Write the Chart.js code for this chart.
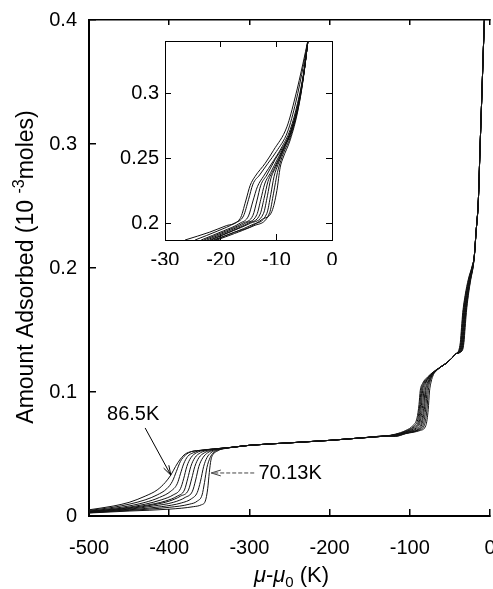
<!DOCTYPE html>
<html>
<head>
<meta charset="utf-8">
<script src="https://cdn.jsdelivr.net/npm/chart.js@4.4.1/dist/chart.umd.min.js"></script>
<style>
  body { margin: 0; background: #fff; }
  #wrap { position: relative; width: 493px; height: 589px; overflow: hidden; }
  #main { position: absolute; left: 0; top: 0; }
  #inset { position: absolute; left: 110px; top: 30px; }
</style>
</head>
<body>
<div id="wrap">
  <canvas id="main" width="493" height="589"></canvas>
  <canvas id="inset" width="230" height="235"></canvas>
</div>
<script>
// axis ticks
const mainXTicks = [-500, -400, -300, -200, -100, 0];
const mainYTicks = [0, 0.1, 0.2, 0.3, 0.4];
const insetXTicks = [-30, -20, -10, 0];
const insetYTicks = [0.2, 0.25, 0.3];

const hotLabel = '86.5K';
const coldLabel = '70.13K';

// main plot: [mu - mu0 (K), amount (1e-3 moles)], curves go from 86.5K (first) to 70.13K (last)
const firstStep = [
  [[-500,0.005],[-470,0.008],[-450,0.011],[-430,0.016],[-415,0.021],[-405,0.027],[-398,0.033],[-392,0.040],[-386,0.046],[-380,0.050],[-372,0.052],[-360,0.053],[-345,0.054]],
  [[-500,0.0045],[-470,0.007],[-450,0.0095],[-430,0.013],[-415,0.017],[-403,0.022],[-396,0.028],[-391,0.036],[-386,0.044],[-380,0.049],[-372,0.052],[-360,0.053],[-345,0.054]],
  [[-500,0.004],[-460,0.007],[-430,0.011],[-412,0.015],[-398,0.020],[-390,0.026],[-386,0.034],[-382,0.042],[-377,0.048],[-370,0.051],[-360,0.053],[-345,0.054]],
  [[-500,0.0038],[-460,0.0062],[-430,0.0095],[-410,0.013],[-395,0.017],[-386,0.022],[-382,0.030],[-378,0.040],[-373,0.047],[-366,0.051],[-356,0.053],[-345,0.054]],
  [[-500,0.0035],[-460,0.0058],[-430,0.0085],[-405,0.012],[-390,0.016],[-381,0.021],[-377,0.030],[-373,0.040],[-368,0.047],[-361,0.051],[-352,0.053],[-343,0.054]],
  [[-500,0.0032],[-450,0.006],[-420,0.009],[-400,0.012],[-386,0.016],[-376,0.021],[-372,0.030],[-368,0.040],[-363,0.047],[-356,0.051],[-348,0.053],[-340,0.054]],
  [[-500,0.003],[-450,0.0055],[-420,0.008],[-395,0.011],[-380,0.015],[-371,0.020],[-367,0.029],[-363,0.040],[-358,0.047],[-352,0.051],[-345,0.053],[-338,0.054]],
  [[-500,0.0028],[-450,0.005],[-410,0.0075],[-385,0.0105],[-372,0.014],[-365,0.019],[-361,0.028],[-357,0.040],[-353,0.047],[-348,0.051],[-342,0.053],[-336,0.054]],
  [[-500,0.0026],[-450,0.0045],[-400,0.007],[-375,0.0095],[-365,0.012],[-359,0.017],[-356,0.027],[-353,0.039],[-349,0.047],[-345,0.051],[-340,0.053],[-334,0.054]],
  [[-500,0.0024],[-450,0.004],[-400,0.0055],[-370,0.0075],[-360,0.009],[-355,0.012],[-352,0.022],[-350,0.035],[-348,0.045],[-345,0.050],[-341,0.052],[-335,0.054]]
];
const plateau = [[-320,0.0555],[-300,0.057],[-250,0.059],[-200,0.061],[-160,0.063],[-130,0.0645]];
const secondStep = [
  [[-118,0.066],[-105,0.069],[-96,0.073],[-91,0.079],[-88.5,0.090],[-87,0.101],[-84,0.107],[-78,0.112],[-71,0.116]],
  [[-118,0.0658],[-105,0.0685],[-95,0.0725],[-90,0.078],[-87.5,0.090],[-86,0.101],[-83,0.107],[-77,0.112],[-71,0.116]],
  [[-118,0.0656],[-105,0.068],[-94,0.072],[-89,0.077],[-86.5,0.090],[-85,0.101],[-82,0.107],[-76,0.112],[-70,0.116]],
  [[-118,0.0654],[-105,0.0678],[-93,0.0715],[-88,0.0765],[-85.5,0.089],[-84,0.101],[-81,0.107],[-75.5,0.1125],[-70,0.116]],
  [[-118,0.0652],[-105,0.0675],[-92,0.071],[-87,0.076],[-84,0.089],[-82.5,0.101],[-80,0.107],[-75,0.1125],[-69.5,0.116]],
  [[-118,0.065],[-105,0.0672],[-91,0.0705],[-85.5,0.0755],[-82.5,0.089],[-81,0.101],[-78.5,0.107],[-74,0.1125],[-69,0.116]],
  [[-118,0.0648],[-105,0.067],[-90,0.070],[-84.5,0.075],[-81.5,0.088],[-80,0.101],[-77.5,0.107],[-73.5,0.113],[-68.5,0.1165]],
  [[-118,0.0646],[-105,0.0668],[-89,0.0698],[-83,0.0745],[-80,0.088],[-78.5,0.101],[-76,0.108],[-72.5,0.113],[-68,0.1165]],
  [[-118,0.0644],[-105,0.0666],[-88,0.0695],[-81.5,0.074],[-78.5,0.087],[-77,0.101],[-75,0.108],[-72,0.1135],[-67.5,0.117]],
  [[-118,0.0642],[-105,0.0664],[-87,0.069],[-80,0.073],[-77,0.086],[-75.5,0.100],[-73.5,0.108],[-70.5,0.114],[-67,0.117]]
];
const shoulder = [[-62,0.120],[-55,0.123],[-48,0.127],[-42,0.131]];
const thirdStep = [
  [[-39,0.1335],[-37,0.140],[-35.5,0.152],[-34,0.164],[-31,0.178],[-27,0.191],[-22.5,0.201]],
  [[-38.5,0.1335],[-36.5,0.140],[-35,0.152],[-33.5,0.164],[-30.5,0.178],[-26.5,0.191],[-22.3,0.201]],
  [[-38,0.1335],[-36,0.140],[-34.5,0.152],[-33,0.164],[-30,0.178],[-26,0.191],[-22.1,0.201]],
  [[-37.5,0.1335],[-35.5,0.140],[-34,0.152],[-32.5,0.164],[-29.5,0.178],[-25.7,0.191],[-21.9,0.201]],
  [[-37,0.1335],[-35,0.140],[-33.5,0.152],[-32,0.164],[-29,0.178],[-25.4,0.191],[-21.7,0.201]],
  [[-36.5,0.1335],[-34.5,0.140],[-33,0.152],[-31.5,0.164],[-28.6,0.178],[-25.1,0.191],[-21.5,0.201]],
  [[-36,0.1335],[-34,0.140],[-32.5,0.152],[-31,0.164],[-28.2,0.178],[-24.8,0.191],[-21.3,0.201]],
  [[-35.5,0.1335],[-33.5,0.140],[-32,0.152],[-30.5,0.164],[-27.8,0.178],[-24.5,0.191],[-21.2,0.201]],
  [[-35,0.1335],[-33,0.140],[-31.5,0.152],[-30,0.164],[-27.4,0.178],[-24.2,0.191],[-21.1,0.201]],
  [[-34.5,0.1335],[-32.5,0.140],[-31,0.152],[-29.5,0.164],[-27,0.178],[-23.9,0.191],[-21,0.201]]
];
const topRise = [[-19.5,0.21],[-17.5,0.228],[-14.5,0.255],[-12.5,0.295],[-10.4,0.335],[-8.3,0.376],[-7,0.40],[-6,0.42]];

// inset, same ordering
const insetCurves = [
  [[-26.4,0.187],[-22,0.193],[-19,0.198],[-16.5,0.2035],[-15.5,0.217],[-14.7,0.229],[-13.8,0.236],[-12,0.246],[-10.5,0.256],[-8.1,0.274],[-6.6,0.297],[-5.2,0.323],[-4.3,0.341]],
  [[-24.6,0.187],[-20.5,0.194],[-17.5,0.2],[-15.9,0.2055],[-15,0.218],[-14.2,0.23],[-13,0.237],[-11.5,0.246],[-10,0.255],[-8,0.27],[-6.5,0.293],[-5.1,0.322],[-4.3,0.341]],
  [[-23.5,0.187],[-19.5,0.194],[-16.5,0.2],[-15,0.2055],[-14.2,0.217],[-13.4,0.228],[-12.3,0.236],[-10.5,0.248],[-9.2,0.257],[-7.5,0.272],[-6.2,0.292],[-5,0.318],[-4.3,0.341]],
  [[-23,0.187],[-19,0.194],[-16,0.2],[-14.2,0.206],[-13.5,0.217],[-12.8,0.229],[-11.7,0.237],[-10.2,0.249],[-9,0.257],[-7.5,0.27],[-6.2,0.29],[-5,0.317],[-4.3,0.341]],
  [[-22.5,0.187],[-18.5,0.194],[-15.5,0.2],[-13.5,0.2065],[-12.8,0.218],[-12.1,0.230],[-11,0.239],[-9.7,0.25],[-8.7,0.258],[-7.4,0.27],[-6.1,0.29],[-5,0.317],[-4.3,0.341]],
  [[-22,0.187],[-18,0.194],[-15,0.2],[-12.9,0.207],[-12.2,0.219],[-11.5,0.232],[-10.5,0.241],[-9.4,0.251],[-8.6,0.258],[-7.4,0.27],[-6.1,0.29],[-5,0.317],[-4.3,0.341]],
  [[-21.7,0.187],[-17.8,0.194],[-14.6,0.2],[-12.3,0.2075],[-11.6,0.221],[-11,0.234],[-10.1,0.243],[-9.2,0.252],[-8.5,0.259],[-7.4,0.27],[-6.1,0.29],[-5,0.317],[-4.3,0.341]],
  [[-21.3,0.187],[-17.5,0.193],[-14.2,0.199],[-11.7,0.2075],[-11,0.222],[-10.4,0.236],[-9.7,0.245],[-9,0.253],[-8.4,0.259],[-7.4,0.269],[-6.1,0.289],[-5.1,0.314],[-4.3,0.341]],
  [[-21,0.187],[-17.5,0.193],[-14,0.198],[-11.2,0.208],[-10.5,0.223],[-9.8,0.239],[-9.2,0.248],[-8.7,0.254],[-7.5,0.266],[-6.1,0.288],[-5.1,0.313],[-4.3,0.341]],
  [[-20.7,0.187],[-17.5,0.192],[-14.7,0.197],[-12.5,0.203],[-10.8,0.209],[-9.9,0.225],[-9.3,0.243],[-8.8,0.25],[-7.5,0.264],[-6.1,0.287],[-5.2,0.31],[-4.3,0.341]]
];

// annotation placement (data coords)
const hotNote = { text: hotLabel, at: [-477.5, 0.0774], from: [-430, 0.071], to: [-398, 0.033] };
const coldNote = { text: coldLabel, at: [-288.75, 0.0298], from: [-294, 0.0347], to: [-347.5, 0.0347] };

const FONT = "'Liberation Sans', Arial, sans-serif";
Chart.defaults.font.family = FONT;
Chart.defaults.color = '#000';

function axis(pos, min, max, ticks, o) {
  return {
    type: 'linear', position: pos, min: min, max: max,
    afterBuildTicks: s => { s.ticks = ticks.map(v => ({ value: v })); },
    ticks: { display: o.labels, color: '#000', font: { size: 20 }, padding: o.pad || 0,
             autoSkip: false, maxRotation: 0, callback: v => String(v) },
    grid: { drawOnChartArea: false, drawTicks: true, tickLength: -o.tick, color: '#000', lineWidth: o.tickWidth },
    border: { display: true, color: '#000', width: o.border },
    afterFit: s => {
      if (pos === 'left' || pos === 'right') s.width = o.size; else s.height = o.size;
      s.paddingLeft = 0; s.paddingRight = 0; s.paddingTop = 0; s.paddingBottom = 0;
    }
  };
}

function curveSet(list) {
  return list.map((pts, i) => ({
    label: 'curve ' + (i + 1),
    data: pts,
    borderColor: '#111',
    borderWidth: 1,
    pointRadius: 0,
    fill: false,
    cubicInterpolationMode: 'monotone'
  }));
}

function drawArrow(ctx, x1, y1, x2, y2, dash) {
  ctx.setLineDash(dash);
  ctx.beginPath(); ctx.moveTo(x1, y1); ctx.lineTo(x2, y2); ctx.stroke();
  ctx.setLineDash([]);
  const a = Math.atan2(y2 - y1, x2 - x1), L = 10, w = 0.3;
  ctx.beginPath();
  ctx.moveTo(x2 - L * Math.cos(a - w), y2 - L * Math.sin(a - w));
  ctx.lineTo(x2, y2);
  ctx.lineTo(x2 - L * Math.cos(a + w), y2 - L * Math.sin(a + w));
  ctx.stroke();
}

// draws runs of text, each with its own font and vertical shift
function drawRuns(ctx, runs, cx, baseY) {
  let total = 0;
  runs.forEach(r => { ctx.font = r[1]; total += ctx.measureText(r[0]).width; });
  let px = cx - total / 2;
  runs.forEach(r => {
    ctx.font = r[1];
    ctx.fillText(r[0], px, baseY + r[2]);
    px += ctx.measureText(r[0]).width;
  });
}

const mainDecor = {
  id: 'mainDecor',
  afterDraw(chart) {
    const { ctx, chartArea } = chart;
    const x = chart.scales.x, y = chart.scales.y;
    ctx.save();
    ctx.fillStyle = '#000';
    ctx.strokeStyle = '#000';
    ctx.lineWidth = 1;
    ctx.textBaseline = 'alphabetic';
    ctx.textAlign = 'left';

    // notes with arrows
    ctx.font = '20px ' + FONT;
    ctx.fillText(hotNote.text, x.getPixelForValue(hotNote.at[0]), y.getPixelForValue(hotNote.at[1]));
    ctx.fillText(coldNote.text, x.getPixelForValue(coldNote.at[0]), y.getPixelForValue(coldNote.at[1]));
    drawArrow(ctx, x.getPixelForValue(hotNote.from[0]), y.getPixelForValue(hotNote.from[1]),
              x.getPixelForValue(hotNote.to[0]), y.getPixelForValue(hotNote.to[1]), []);
    ctx.strokeStyle = '#444';
    drawArrow(ctx, x.getPixelForValue(coldNote.from[0]), y.getPixelForValue(coldNote.from[1]),
              x.getPixelForValue(coldNote.to[0]), y.getPixelForValue(coldNote.to[1]), [4, 2]);

    // x title
    const big = '22px ' + FONT, ital = 'italic 22px ' + FONT, small = '15px ' + FONT;
    drawRuns(ctx, [['\u03bc', ital, 0], ['-', big, 0], ['\u03bc', ital, 0], ['0', small, 5], [' (K)', big, 0]],
             (chartArea.left + chartArea.right) / 2 + 2, chartArea.bottom + 66);

    // y title, rotated
    const yBig = '23px ' + FONT, ySmall = '16px ' + FONT;
    ctx.translate(33, (chartArea.top + chartArea.bottom) / 2 - 1);
    ctx.rotate(-Math.PI / 2);
    drawRuns(ctx, [['Amount Adsorbed (10 ', yBig, 0], ['-3', ySmall, -9], ['moles)', yBig, 0]], 0, 0);
    ctx.restore();
  }
};

const mainData = firstStep.map((f, i) => f.concat(plateau, secondStep[i], shoulder, thirdStep[i], topRise));

new Chart(document.getElementById('main'), {
  type: 'line',
  data: { datasets: curveSet(mainData) },
  options: {
    responsive: false,
    animation: false,
    layout: { padding: { top: 20, right: 3, left: 0, bottom: 0 } },
    plugins: { legend: { display: false }, tooltip: { enabled: false } },
    scales: {
      x: axis('bottom', -500, 0, mainXTicks, { labels: true, pad: 27, tick: 7, tickWidth: 1.5, border: 2, size: 73 }),
      x2: axis('top', -500, 0, mainXTicks, { labels: false, tick: 5, tickWidth: 1.5, border: 1.5, size: 0 }),
      y: axis('left', 0, 0.4, mainYTicks, { labels: true, pad: 19, tick: 7, tickWidth: 1.5, border: 2, size: 89 })
    }
  },
  plugins: [mainDecor]
});

new Chart(document.getElementById('inset'), {
  type: 'line',
  data: { datasets: curveSet(insetCurves) },
  options: {
    responsive: false,
    animation: false,
    layout: { padding: { top: 11, right: 8, left: 0, bottom: 0 } },
    plugins: { legend: { display: false }, tooltip: { enabled: false } },
    scales: {
      x: axis('bottom', -30, 0, insetXTicks, { labels: true, pad: 14, tick: 6, tickWidth: 1, border: 1, size: 25 }),
      x2: axis('top', -30, 0, insetXTicks, { labels: false, tick: 6, tickWidth: 1, border: 1, size: 0 }),
      y: axis('left', 0.187, 0.34, insetYTicks, { labels: true, pad: 12, tick: 6, tickWidth: 1, border: 1, size: 55 }),
      y2: axis('right', 0.187, 0.34, insetYTicks, { labels: false, tick: 6, tickWidth: 1, border: 1, size: 0 })
    }
  }
});
</script>
</body>
</html>
